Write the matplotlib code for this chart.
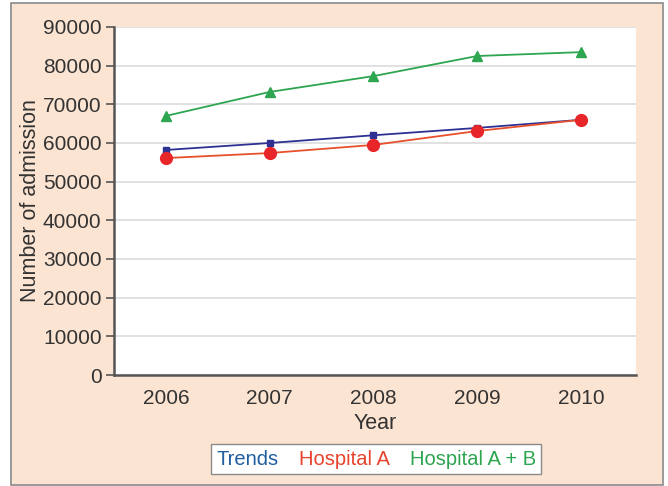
import matplotlib.pyplot as plt
from matplotlib.patches import Rectangle

years = [2006, 2007, 2008, 2009, 2010]
trends = [58200, 60000, 62000, 63900, 66000]
hospital_a = [56100, 57400, 59500, 63100, 66000]
hospital_ab = [67000, 73200, 77300, 82500, 83500]
y_ticks = [0, 10000, 20000, 30000, 40000, 50000, 60000, 70000, 80000, 90000]

plt.rcParams['font.family'] = ['Liberation Sans', 'DejaVu Sans']

fig = plt.figure(figsize=(6.68, 4.86), dpi=100)
fig.patch.set_facecolor('white')

# fondo color durazno con borde gris
marco = Rectangle((11 / 668, 1 - 485 / 486), 652 / 668, 482 / 486,
                  transform=fig.transFigure, facecolor='#fce4d2',
                  edgecolor='#8a8a8a', linewidth=1.2, zorder=-10)
fig.patches.append(marco)

ax = fig.add_axes([114 / 668, 1 - 375 / 486, 522 / 668, 348 / 486])
ax.set_facecolor('white')

ax.plot(years, hospital_ab, color='#2ea550', marker='^', markersize=7.5, linewidth=1.3, zorder=3)
ax.plot(years, trends, color='#2e3192', marker='s', markersize=5, linewidth=1.3, zorder=3)
ax.plot(years, hospital_a, color='#e8502c', marker='o', markersize=8.5,
        markerfacecolor='#e8262a', markeredgecolor='#e8262a', linewidth=1.3, zorder=4)

ax.set_xlim(2005.5, 2010.53)
ax.set_ylim(0, 90000)
ax.set_yticks(y_ticks)
ax.set_xticks(years)
ax.tick_params(axis='y', labelsize=15, length=6, width=1.2, color='#555555', labelcolor='#333333', pad=3)
ax.tick_params(axis='x', labelsize=15, length=0, labelcolor='#333333', pad=10)
ax.grid(axis='y', color='#dcdcdc', linewidth=1.2)
ax.set_axisbelow(True)

for lado in ['top', 'right']:
    ax.spines[lado].set_visible(False)
ax.spines['left'].set_color('#555555')
ax.spines['bottom'].set_color('#555555')
ax.spines['left'].set_linewidth(1.8)
ax.spines['bottom'].set_linewidth(1.8)

ax.set_xlabel('Year', fontsize=15.5, color='#333333', labelpad=4)
ax.set_ylabel('Number of admission', fontsize=15.5, color='#333333', labelpad=1)

# leyenda solo con texto de color
etiquetas = ['Trends', 'Hospital A', 'Hospital A + B']
colores = ['#1f5f9f', '#e8432c', '#2ea550']
handles = [plt.Line2D([], [], linestyle='none') for _ in etiquetas]
leg = fig.legend(handles, etiquetas, loc='center', bbox_to_anchor=(376 / 668, 1 - 459 / 486),
                 ncol=3, handlelength=0, handletextpad=0, columnspacing=1.0,
                 fontsize=14.5, frameon=True, fancybox=False, framealpha=1, borderpad=0.25)
leg.get_frame().set_edgecolor('#8a8a8a')
leg.get_frame().set_linewidth(1.0)
for texto, c in zip(leg.get_texts(), colores):
    texto.set_color(c)

fig.savefig('out.png', dpi=100)
